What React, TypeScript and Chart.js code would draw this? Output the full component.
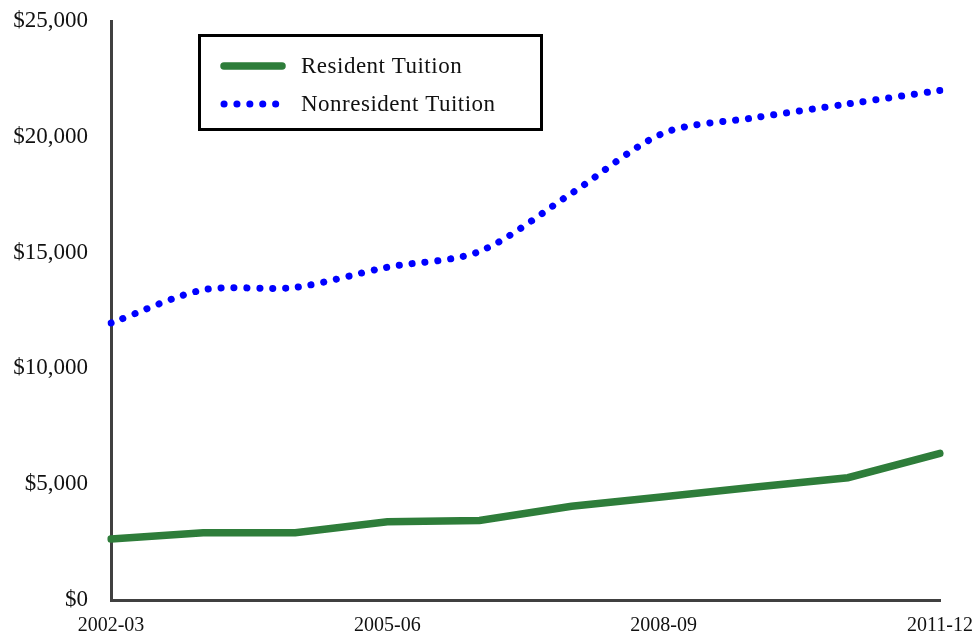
import React, { useEffect, useRef } from 'react';
import { Chart, registerables } from 'chart.js';

Chart.register(...registerables);

const years = ['2002-03', '2003-04', '2004-05', '2005-06', '2006-07', '2007-08', '2008-09', '2009-10', '2010-11', '2011-12'];
const residentTuition = [2630, 2900, 2900, 3380, 3430, 4050, 4460, 4880, 5280, 6330];
const nonresidentTuition = [11960, 13390, 13500, 14370, 15050, 17560, 20160, 20830, 21420, 22000];
const seriesNames = ['Resident Tuition', 'Nonresident Tuition'];
const yMin = 0;
const yMax = 25000;
const yStep = 5000;
const xLabelEvery = 3;

const FONT = "'Liberation Serif', 'Times New Roman', serif";

const boxLegend = {
  id: 'boxLegend',
  afterDraw(chart: any) {
    const ctx = chart.ctx;
    const x0 = 199.5, y0 = 35.5, w = 342, h = 94;
    ctx.save();
    ctx.fillStyle = '#ffffff';
    ctx.fillRect(x0, y0, w, h);
    ctx.lineWidth = 3;
    ctx.strokeStyle = '#000000';
    ctx.setLineDash([]);
    ctx.strokeRect(x0, y0, w, h);
    const rows = [66, 104];
    chart.data.datasets.forEach((ds: any, i: number) => {
      const y = rows[i];
      ctx.beginPath();
      ctx.strokeStyle = ds.borderColor;
      ctx.lineWidth = ds.borderWidth;
      ctx.lineCap = ds.borderCapStyle || 'butt';
      ctx.setLineDash(ds.borderDash || []);
      ctx.moveTo(224, y);
      ctx.lineTo(i === 0 ? 282 : 280, y);
      ctx.stroke();
      ctx.setLineDash([]);
      ctx.fillStyle = '#111111';
      ctx.font = `23px ${FONT}`;
      try { (ctx as any).letterSpacing = '0.5px'; } catch (e) {}
      ctx.textAlign = 'left';
      ctx.textBaseline = 'middle';
      ctx.fillText(ds.label, 301, y + 1);
    });
    ctx.restore();
  },
};

export default function App() {
  const ref = useRef<HTMLCanvasElement | null>(null);

  useEffect(() => {
    if (!ref.current) return;
    const chart = new Chart(ref.current, {
      type: 'line',
      data: {
        labels: years,
        datasets: [
          {
            label: seriesNames[0],
            data: residentTuition,
            borderColor: '#2e7d3a',
            borderWidth: 7.5,
            borderCapStyle: 'round',
            borderJoinStyle: 'miter',
            pointRadius: 0,
            tension: 0,
            fill: false,
          },
          {
            label: seriesNames[1],
            data: nonresidentTuition,
            borderColor: '#0000ff',
            borderWidth: 7,
            borderDash: [0.1, 12.8],
            borderCapStyle: 'round',
            pointRadius: 0,
            tension: 0.3,
            fill: false,
          },
        ],
      },
      options: {
        responsive: false,
        animation: false,
        layout: { padding: { left: 0, right: 38, top: 21, bottom: 0 } },
        plugins: {
          legend: { display: false },
          tooltip: { enabled: false },
        },
        scales: {
          x: {
            type: 'category',
            offset: false,
            grid: { display: false, drawTicks: false },
            border: { display: true, color: '#404040', width: 3 },
            ticks: {
              autoSkip: false,
              maxRotation: 0,
              minRotation: 0,
              padding: 14,
              color: '#111111',
              font: { family: FONT, size: 20 },
              callback: (_v: any, i: number) => (i % xLabelEvery === 0 ? years[i] : ''),
            },
            afterFit: (scale: any) => {
              scale.height = 37;
              scale.paddingLeft = 0;
              scale.paddingRight = 0;
            },
          },
          y: {
            min: yMin,
            max: yMax,
            grid: { display: false, drawTicks: false },
            border: { display: true, color: '#404040', width: 3 },
            ticks: {
              stepSize: yStep,
              padding: 23,
              color: '#111111',
              font: { family: FONT, size: 23 },
              callback: (v: any) => '$' + Number(v).toLocaleString('en-US'),
            },
            afterFit: (scale: any) => {
              scale.width = 111;
              scale.paddingTop = 0;
              scale.paddingBottom = 0;
            },
          },
        },
      },
      plugins: [boxLegend],
    });
    return () => chart.destroy();
  }, []);

  return (
    <div style={{ position: 'fixed', left: 0, top: 0, width: 978, height: 637, background: '#fff' }}>
      <canvas ref={ref} width={978} height={637} />
    </div>
  );
}
